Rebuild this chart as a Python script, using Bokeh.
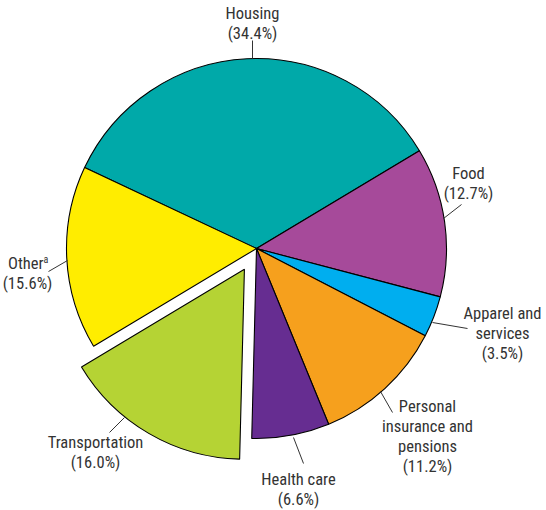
import math
from bokeh.plotting import figure
from bokeh.models import Range1d
from bokeh.embed import file_html
from bokeh.resources import INLINE
from bokeh.core.properties import value

# ---- data ----
categories = ["Housing", "Food", "Apparel and services", "Personal insurance and pensions",
              "Health care", "Transportation", "Other"]
shares = [34.4, 12.7, 3.5, 11.2, 6.6, 16.0, 15.6]
colors = ["#00A9A9", "#A64A9A", "#00AEEF", "#F6A01D", "#662D91", "#B5D334", "#FFED00"]
label_lines = [["Housing"], ["Food"], ["Apparel and", "services"],
               ["Personal", "insurance and", "pensions"], ["Health care"],
               ["Transportation"], ["Other"]]
exploded = "Transportation"

# ---- layout ----
W, H = 546, 510
def X(sx): return sx
def Y(sy): return H - sy

cx, cy, R = X(256), Y(248), 190
start_deg = 154.8
explode_px = 24
FONT = "Liberation Sans Narrow, Roboto Condensed, Roboto, sans-serif"
TXT = "#333333"
FS = "16.5px"
STEP = 20

label_pos = {  # first line centre (screen px)
    "Housing": (252, 13), "Food": (468, 173), "Apparel and services": (502, 313),
    "Personal insurance and pensions": (427, 406), "Health care": (298, 479),
    "Transportation": (95, 442), "Other": (27, 263),
}
leaders = {
    "Housing": ((252, 40), (252, 58)), "Food": ((461, 204), (443, 218)),
    "Apparel and services": ((467, 328), (432, 322)),
    "Personal insurance and pensions": ((392, 412), (380, 391)),
    "Health care": ((303, 463), (293, 437)), "Transportation": ((109, 432), (124, 417)),
    "Other": ((48, 271), (67, 260)),
}

p = figure(width=W, height=H, output_backend="svg", toolbar_location=None,
           x_range=Range1d(0, W), y_range=Range1d(0, H), min_border=0)
p.axis.visible = False
p.grid.visible = False
p.outline_line_color = None
p.background_fill_color = "white"

a = start_deg
for cat, s, c in zip(categories, shares, colors):
    a0 = a
    a1 = a - s * 3.6
    mid = math.radians((a0 + a1) / 2)
    x, y = cx, cy
    if cat == exploded:
        x += explode_px * math.cos(mid)
        y += explode_px * math.sin(mid)
    p.wedge(x=[x], y=[y], radius=R, start_angle=[math.radians(a1)], end_angle=[math.radians(a0)],
            direction="anticlock", fill_color=c, line_color="black", line_width=1.1)
    a = a1

for cat, s, lines in zip(categories, shares, label_lines):
    lx, ly = label_pos[cat]
    allines = lines + [f"({s:.1f}%)"]
    for i, t in enumerate(allines):
        if cat == "Other" and i == 0:
            p.text(x=[X(43)], y=[Y(ly + i * STEP)], text=[t], text_align="right",
                   text_baseline="middle", text_font=value(FONT), text_font_size=FS, text_color=TXT)
            p.text(x=[X(43)], y=[Y(ly - 4)], text=["a"], text_align="left",
                   text_baseline="middle", text_font=value(FONT), text_font_size="10px", text_color=TXT)
        else:
            p.text(x=[X(lx)], y=[Y(ly + i * STEP)], text=[t], text_align="center",
                   text_baseline="middle", text_font=value(FONT), text_font_size=FS, text_color=TXT)
    (x0, y0), (x1, y1) = leaders[cat]
    p.segment(x0=[X(x0)], y0=[Y(y0)], x1=[X(x1)], y1=[Y(y1)], line_color="#333333", line_width=1)

open("out.html", "w").write(file_html(p, INLINE))
